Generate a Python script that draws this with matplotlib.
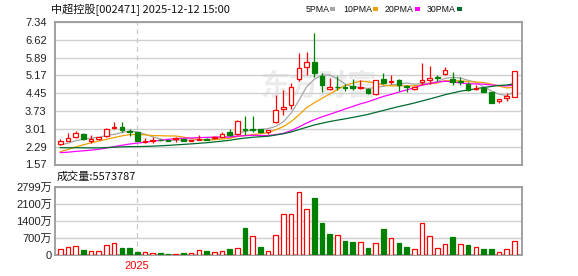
"""
中超控股 周K线 + 成交量 (东方财富风格)
"""

import numpy as np
import pandas as pd
import matplotlib
matplotlib.use("Agg")
import matplotlib.pyplot as plt
from matplotlib.patches import Rectangle

# 周K线 (60 周, 截至 2025-12-12)
opens = [2.39, 2.53, 2.67, 2.81, 2.52, 2.59, 2.72, 3.03, 3.10, 2.92,
         2.87, 2.49, 2.51, 2.58, 2.56, 2.59, 2.60, 2.53, 2.57, 2.61,
         2.63, 2.70, 2.87, 2.79, 2.99, 2.99, 2.99, 2.87, 3.27, 3.80,
         3.97, 5.03, 5.52, 5.72, 5.15, 4.63, 4.72, 4.70, 4.74, 4.66,
         4.64, 4.40, 5.02, 4.90, 5.00, 4.73, 4.62, 4.90, 5.00, 5.10,
         5.21, 5.02, 4.95, 4.82, 4.61, 4.67, 4.49, 4.13, 4.25, 4.31]
highs = [2.59, 2.83, 2.92, 2.86, 2.76, 2.69, 3.03, 3.28, 3.29, 2.99,
         2.90, 2.65, 2.67, 2.62, 2.58, 2.69, 2.62, 2.58, 2.76, 2.64,
         2.72, 2.88, 2.99, 3.35, 3.54, 3.54, 3.02, 2.97, 4.38, 4.58,
         4.85, 6.09, 6.12, 6.90, 5.25, 5.08, 5.15, 4.82, 5.02, 4.99,
         4.66, 5.00, 5.28, 5.19, 5.04, 4.80, 4.73, 5.68, 5.55, 5.20,
         5.52, 5.32, 5.10, 4.90, 4.77, 4.70, 4.50, 4.23, 4.45, 5.35]
lows = [2.36, 2.50, 2.63, 2.57, 2.43, 2.56, 2.70, 2.99, 2.87, 2.72,
        2.50, 2.44, 2.44, 2.52, 2.50, 2.47, 2.51, 2.51, 2.55, 2.55,
        2.60, 2.67, 2.72, 2.77, 2.76, 2.90, 2.85, 2.80, 3.25, 3.57,
        3.80, 4.94, 5.19, 5.11, 4.48, 4.60, 4.58, 4.54, 4.60, 4.63,
        4.42, 4.36, 4.82, 4.84, 4.54, 4.51, 4.58, 4.78, 4.82, 4.95,
        5.20, 4.78, 4.78, 4.54, 4.58, 4.50, 4.06, 4.07, 4.15, 4.28]
closes = [2.51, 2.63, 2.86, 2.59, 2.60, 2.67, 2.99, 3.09, 2.96, 2.88,
          2.52, 2.53, 2.55, 2.54, 2.52, 2.63, 2.53, 2.55, 2.60, 2.58,
          2.70, 2.81, 2.75, 3.33, 2.96, 2.97, 2.90, 2.95, 3.77, 3.91,
          4.69, 5.46, 5.72, 5.28, 4.78, 4.69, 4.70, 4.68, 4.66, 4.69,
          4.44, 4.98, 4.88, 4.96, 4.80, 4.71, 4.72, 5.00, 5.07, 5.08,
          5.39, 4.89, 4.92, 4.58, 4.67, 4.51, 4.07, 4.21, 4.33, 5.35]
# 成交量 (万)
volumes = [232, 314, 355, 205, 150, 150, 396, 478, 287, 287,
           123, 109, 68, 82, 41, 41, 82, 82, 191, 164,
           123, 164, 246, 273, 1106, 765, 328, 164, 806, 1667,
           1667, 2595, 1871, 2336, 1311, 861, 806, 574, 533, 519,
           287, 478, 1065, 683, 492, 328, 232, 1298, 765, 273,
           437, 738, 437, 410, 314, 246, 246, 123, 232, 557]
last_volume = 5573787
# 窗口之前的收盘价 (用于均线)
prev_closes = [2.80, 2.75, 2.72, 2.70, 2.66, 2.62, 2.60, 2.58, 2.55, 2.52,
               2.30, 2.20, 2.12, 2.05, 2.00, 1.96, 1.93, 1.90, 1.87, 1.77,
               1.80, 1.78, 1.75, 1.79, 1.98, 2.28, 2.35, 2.30, 2.36]

price_ticks = [1.57, 2.29, 3.01, 3.73, 4.45, 5.17, 5.89, 6.62, 7.34]
vol_ticks = [0, 700, 1400, 2100, 2799]
vol_labels = ['0', '700万', '1400万', '2100万', '2799万']
ma_periods = [5, 10, 20, 30]
ma_names = ['5PMA', '10PMA', '20PMA', '30PMA']

RED = '#ff0000'
GREEN = '#008000'
MA_COLORS = ['#a6a6a6', '#f0a000', '#ff00ff', '#006b2e']
GRID = '#d0d0d0'
SPINE = '#9a9a9a'
NUM_FONT = ['Liberation Sans', 'Noto Sans CJK SC']
CJK_FONT = ['Noto Sans CJK SC', 'DejaVu Sans']

W, H = 578, 276
dates = pd.date_range(end='2025-12-12', periods=len(closes), freq='W-FRI')
x = np.arange(len(closes))
o, h, l, c = (np.array(v) for v in (opens, highs, lows, closes))
up = c >= o
prev = np.concatenate([[prev_closes[-1]], c[:-1]])
vol_up = c >= prev
year_idx = int(np.argmax(dates.year == 2025))

fig = plt.figure(figsize=(W / 100, H / 100), dpi=100)
fig.patch.set_facecolor('white')


def fx(px):
    return px / W


def fy(py):
    return 1 - py / H


ax1 = fig.add_axes([fx(55), fy(164.5), fx(467), 142.8 / H])
ax2 = fig.add_axes([fx(55), fy(255), fx(467), 68.3 / H])

for ax in (ax1, ax2):
    ax.set_xlim(-0.69, 60.0)
    for sp in ax.spines.values():
        sp.set_color(SPINE)
        sp.set_linewidth(1.3)
    ax.axvline(year_idx, color='#c8c8c8', lw=0.9, ls=(0, (4, 3)), zorder=1)

# 水印
ax1.text(0.565, 0.55, '东方财富', transform=ax1.transAxes, fontsize=21,
         fontweight='bold', color='#ececec', ha='center', va='center',
         family=CJK_FONT, zorder=0)

# K线
bw = 0.6
body_lo = np.minimum(o, c)
body_hi = np.maximum(o, c)
col = np.where(up, RED, GREEN)
ax1.vlines(x, l, body_lo, colors=col, lw=0.9, zorder=3)
ax1.vlines(x, body_hi, h, colors=col, lw=0.9, zorder=3)
ax1.bar(x, body_hi - body_lo, bottom=body_lo, width=bw,
        facecolor=np.where(up, 'white', GREEN), edgecolor=col,
        linewidth=0.9, zorder=4)

# 均线
all_c = pd.Series(prev_closes + closes)
for n, mc in zip(ma_periods, MA_COLORS):
    ma = all_c.rolling(n).mean().iloc[-len(closes):].to_numpy()
    ax1.plot(x, ma, color=mc, lw=0.9, zorder=2)

ax1.set_ylim(price_ticks[0], price_ticks[-1])
ax1.set_yticks(price_ticks)
ax1.set_yticklabels([f'{t:.2f}' for t in price_ticks])
ax1.grid(axis='y', color=GRID, lw=1)
ax1.set_axisbelow(True)
ax1.set_xticks([])
ax1.tick_params(axis='y', length=0, pad=6, labelsize=8, labelcolor='#222222')
for t in ax1.get_yticklabels():
    t.set_family(NUM_FONT)

# 成交量
vcol = np.where(vol_up, RED, GREEN)
ax2.bar(x, volumes, width=bw, facecolor=np.where(vol_up, 'white', GREEN),
        edgecolor=vcol, linewidth=0.9, zorder=3)
ax2.set_ylim(0, vol_ticks[-1])
ax2.set_yticks(vol_ticks)
ax2.set_yticklabels(vol_labels)
ax2.grid(axis='y', color=GRID, lw=1)
ax2.set_axisbelow(True)
ax2.set_xticks([year_idx])
ax2.set_xticklabels([str(dates[year_idx].year)])
ax2.tick_params(axis='y', length=0, pad=2, labelsize=8, labelcolor='#222222')
ax2.tick_params(axis='x', length=0, pad=4, labelsize=8, labelcolor=RED)
for t in ax2.get_yticklabels() + ax2.get_xticklabels():
    t.set_family(NUM_FONT)

# 标题和图例
fig.text(fx(51), fy(9), '中超控股[002471] 2025-12-12 15:00', fontsize=8,
         family=CJK_FONT, color='#111111', va='center', ha='left')
fig.text(fx(57), fy(177), f'成交量:{last_volume}', fontsize=8,
         family=CJK_FONT, color='#111111', va='center', ha='left')

leg_text_x = [306, 343, 385, 427]
leg_box_x = [330, 373, 415, 457]
for tx, bx, name, mc in zip(leg_text_x, leg_box_x, ma_names, MA_COLORS):
    fig.text(fx(tx), fy(9), name, fontsize=6.3, family='Liberation Sans',
             color='#111111', va='center', ha='left')
    fig.patches.append(Rectangle((fx(bx), fy(10.5)), fx(5), 3 / H,
                                 transform=fig.transFigure, facecolor=mc,
                                 edgecolor='none'))

fig.savefig('out.png', dpi=100)
